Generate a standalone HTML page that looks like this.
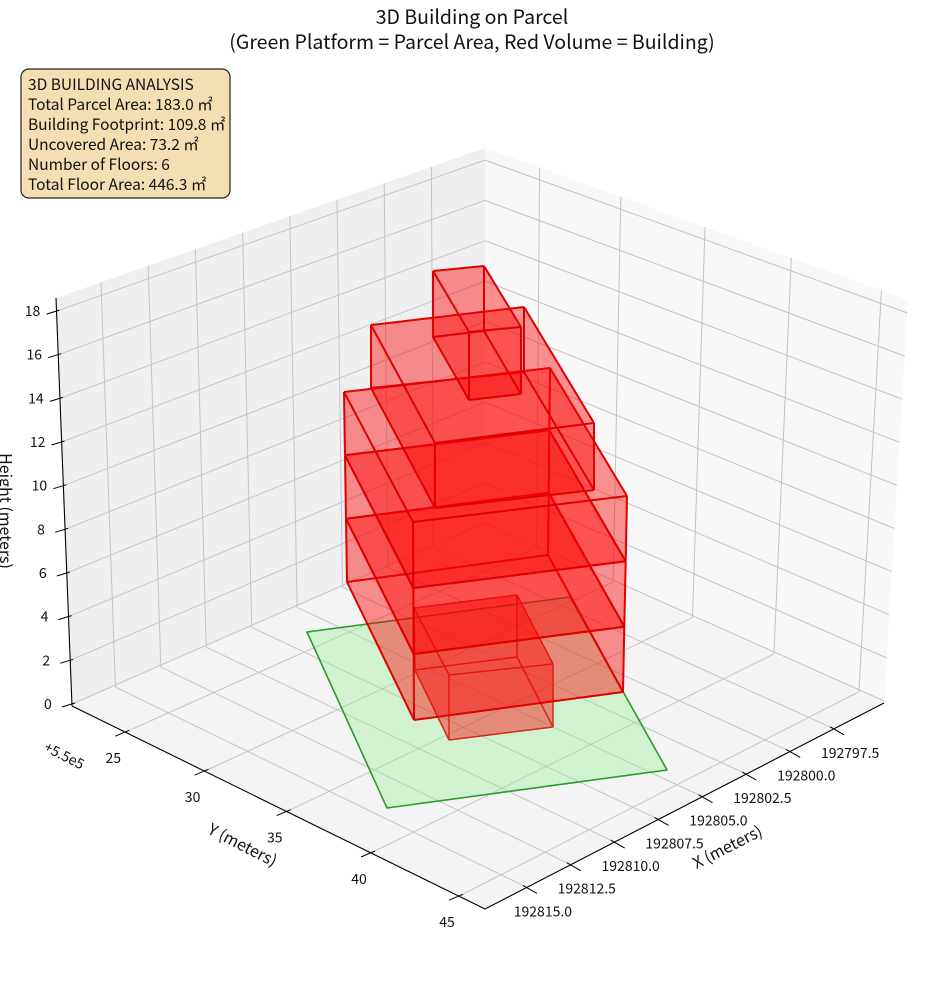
<!DOCTYPE html>
<html><head><meta charset="utf-8">
<style>
html,body{margin:0;padding:0;background:#fff;}
body{width:944px;height:992px;overflow:hidden;font-family:"Noto Sans CJK JP","Liberation Sans",sans-serif;}
svg text{font-family:"Noto Sans CJK JP","Liberation Sans",sans-serif;fill:#111;}
</style></head><body>
<svg id="s" width="944" height="992" viewBox="0 0 944 992" xmlns="http://www.w3.org/2000/svg">
<text x="472" y="24" font-size="19.5" text-anchor="middle">3D Building on Parcel</text>
<text x="472" y="49" font-size="19.5" text-anchor="middle">(Green Platform = Parcel Area, Red Volume = Building)</text>
<g id="g"></g>
<rect x="21" y="69" width="209" height="129" rx="8" fill="#f5deb3" stroke="#222" stroke-width="1.2"/>
<text x="28" y="90" font-size="15.5">3D BUILDING ANALYSIS</text>
<text x="28" y="110" font-size="15.5">Total Parcel Area: 183.0 ㎡</text>
<text x="28" y="130" font-size="15.5">Building Footprint: 109.8 ㎡</text>
<text x="28" y="150" font-size="15.5">Uncovered Area: 73.2 ㎡</text>
<text x="28" y="170" font-size="15.5">Number of Floors: 6</text>
<text x="28" y="190" font-size="15.5">Total Floor Area: 446.3 ㎡</text>
</svg>
<script>
(function(){
var L0=[72,706],B0=[485,525],F0=[485,909],R0=[884,703],L1=[56,298],B1=[485,148],R1=[908,300];
function P(q,u,v){var a=q[0],b=q[1],c=q[2],d=q[3];
 return [a[0]*(1-u)*(1-v)+b[0]*u*(1-v)+c[0]*u*v+d[0]*(1-u)*v,
         a[1]*(1-u)*(1-v)+b[1]*u*(1-v)+c[1]*u*v+d[1]*(1-u)*v];}
var h='';
function poly(pts,f,s,w){h+='<polygon points="'+pts.map(function(p){return p[0].toFixed(1)+','+p[1].toFixed(1)}).join(' ')+'" fill="'+f+'" stroke="'+(s||'none')+'" stroke-width="'+(w||0)+'" stroke-linejoin="round"/>';}
function line(a,b,c,w){h+='<line x1="'+a[0].toFixed(1)+'" y1="'+a[1].toFixed(1)+'" x2="'+b[0].toFixed(1)+'" y2="'+b[1].toFixed(1)+'" stroke="'+c+'" stroke-width="'+w+'"/>';}
function txt(x,y,t,fs,rot,anc){h+='<text x="'+x+'" y="'+y+'" font-size="'+fs+'" text-anchor="'+(anc||'middle')+'"'+(rot?' transform="rotate('+rot+' '+x+' '+y+')"':'')+'>'+t+'</text>';}
var LP=[L0,B0,B1,L1],RP=[B0,R0,R1,B1],FL=[L0,B0,R0,F0];
poly(LP,'#efefef');poly(RP,'#f8f8f8');poly(FL,'#f4f4f4');
var gc='#c4c4c4';
var xu=[];for(var i=0;i<8;i++)xu.push(0.105+0.11*i);
var ys=[0.129,0.321,0.52,0.724,0.937];
var zf=[];for(var z=0;z<=18;z+=2)zf.push(0.005+z*0.0535);
xu.forEach(function(u){line(P(LP,u,0),P(LP,u,1),gc,1);line(P(FL,u,0),P(FL,u,1),gc,1);});
ys.forEach(function(s){line(P(RP,s,0),P(RP,s,1),gc,1);line(P(FL,0,s),P(FL,1,s),gc,1);});
zf.forEach(function(f){line(P(LP,0,f),P(LP,1,f),gc,1);line(P(RP,0,f),P(RP,1,f),gc,1);});
line(L0,L1,'#000',1.1);line(L0,F0,'#000',1.1);line(F0,R0,'#000',1.1);
zf.forEach(function(f){var p=P(LP,0,f);line([p[0]-10,p[1]+3],[p[0]+3,p[1]-1],'#000',1);});
for(var i=0;i<10;i++){var p=P(LP,0,zf[i]);txt(p[0]-24,p[1]+5,String(i*2),14);}
ys.forEach(function(s,i){var p=P(FL,0,s);line([p[0]-10,p[1]+4],[p[0]+4,p[1]-2],'#000',1);txt(p[0]-12,p[1]+31,String(25+5*i),14);});
var xl=['192815.0','192812.5','192810.0','192807.5','192805.0','192802.5','192800.0','192797.5'];
xu.forEach(function(u,i){var p=P(FL,u,1);line([p[0]-4,p[1]-2],[p[0]+10,p[1]+6],'#000',1);txt(p[0]+16,p[1]+29,xl[i],14);});
txt(62,760,'+5.5e5',14,27);
txt(240,850,'Y (meters)',16,27);
txt(730,852,'X (meters)',16,-27);
txt(0,511,'Height (meters)',16,90);
poly([[307,632],[570,597],[667,770],[387,808]],'rgba(144,238,144,0.35)','#2a9a2a',1.6);
function box(T,B,ec,w){
 var fc='rgba(255,0,0,0.24)';
 poly(B,fc);
 for(var i=0;i<4;i++){var j=(i+1)%4;poly([T[i],T[j],B[j],B[i]],fc);}
 poly(T,fc);
 for(var i=0;i<4;i++){var j=(i+1)%4;line(T[i],T[j],ec,w);line(B[i],B[j],ec,w);line(T[i],B[i],ec,w);}
}
function lerp(a,b,t){return [a[0]+(b[0]-a[0])*t,a[1]+(b[1]-a[1])*t];}
box([[414,608],[517,595],[553,664],[449,675]],[[415,670],[517,657],[553,727],[449,740]],'#d42a1a',1.5);
var CT=[[344,392],[550,368],[627,496],[413,522]],CB=[[347,582],[548,555],[623,692],[414,720]];
for(var k=2;k>=0;k--){var t0=k/3,t1=(k+1)/3;
 box(CT.map(function(p,i){return lerp(p,CB[i],t0)}),CT.map(function(p,i){return lerp(p,CB[i],t1)}),'#e00000',2);}
box([[371,325],[524,307],[594,423],[435,443]],[[371,388],[524,372],[594,490],[435,508]],'#e00000',2);
box([[433,271],[484,266],[521,327],[469,332]],[[433,337],[484,331],[521,394],[469,400]],'#e00000',2);
document.getElementById('g').innerHTML=h;
})();
</script>
</body></html>
